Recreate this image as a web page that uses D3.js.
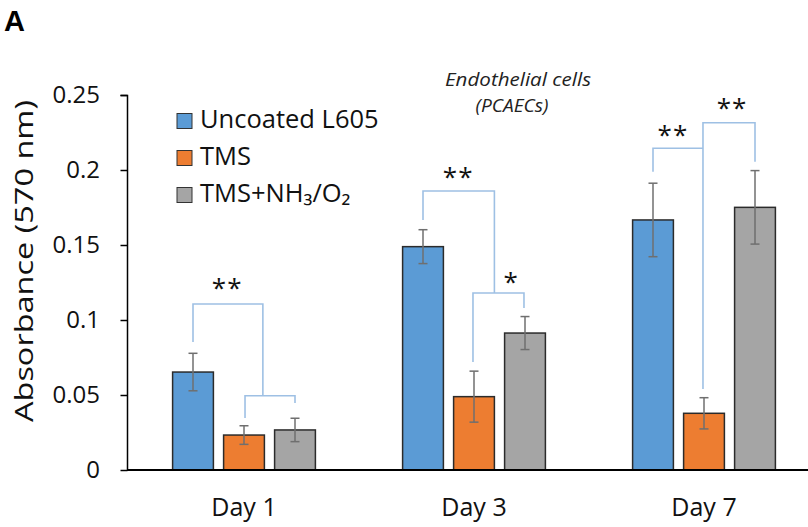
<!DOCTYPE html>
<html><head><meta charset="utf-8">
<script src="https://cdn.jsdelivr.net/npm/d3@7"></script>
<style>body{margin:0;background:#fff}svg{display:block}</style>
</head><body>
<script>
// ---- data ----
const days = ["Day 1", "Day 3", "Day 7"];
const seriesNames = ["Uncoated L605", "TMS", "TMS+NH\u2083/O\u2082"];
const uncoated = [0.0653, 0.1489, 0.1667];
const uncoatedErr = [0.0125, 0.0113, 0.0245];
const tms = [0.0233, 0.0489, 0.0378];
const tmsErr = [0.0062, 0.0170, 0.0104];
const tmsNh3 = [0.0267, 0.0913, 0.1751];
const tmsNh3Err = [0.0078, 0.0110, 0.0245];
const yTicks = [0, 0.05, 0.1, 0.15, 0.2, 0.25];
const yTickLabels = ["0", "0.05", "0.1", "0.15", "0.2", "0.25"];
const colors = ["#5b9bd5", "#ed7d31", "#a5a5a5"];
// significance brackets: polylines in (day, series position, value) units
const brackets = [
  {day: 0, pts: [[0, 0.0853], [0, 0.1107], [1.37, 0.1107], [1.37, 0.0495]]},
  {day: 0, pts: [[1.02, 0.0347], [1.02, 0.0495], [2.0, 0.0495], [2.0, 0.0447]]},
  {day: 1, pts: [[0, 0.1667], [0, 0.186], [1.4, 0.186], [1.4, 0.118]]},
  {day: 1, pts: [[0.98, 0.072], [0.98, 0.118], [1.98, 0.118], [1.98, 0.108]]},
  {day: 2, pts: [[0, 0.1989], [0, 0.2145], [0.98, 0.2145]]},
  {day: 2, pts: [[0.98, 0.054], [0.98, 0.2315], [2.0, 0.2315], [2.0, 0.2055]]}
];
const stars = [
  {day: 0, pos: 0.67, v: 0.125, t: "**"},
  {day: 1, pos: 0.69, v: 0.1987, t: "**"},
  {day: 1, pos: 1.73, v: 0.1287, t: "*"},
  {day: 2, pos: 0.39, v: 0.2267, t: "**"},
  {day: 2, pos: 1.55, v: 0.2447, t: "**"}
];

const values = [uncoated, tms, tmsNh3];
const errs = [uncoatedErr, tmsErr, tmsNh3Err];

const W = 808, H = 527;
const svg = d3.select("body").append("svg").attr("width", W).attr("height", H);
const font = "'Open Sans', sans-serif";

const y = d3.scaleLinear().domain([0, 0.25]).range([470, 95]);
const x0 = d3.scaleBand().domain(days).range([129, 819]).padding(0);
const x1 = d3.scaleBand().domain(d3.range(3)).range([38.5, 191.5]).paddingInner(0.2).paddingOuter(0.1);
const step = x1.step();
const posX = (day, p) => x0(days[day]) + x1(0) + x1.bandwidth() / 2 + p * step;

// bars
const g = svg.append("g");
days.forEach((d, di) => {
  values.forEach((arr, si) => {
    g.append("rect")
      .attr("x", x0(d) + x1(si))
      .attr("y", y(arr[di]))
      .attr("width", x1.bandwidth())
      .attr("height", y(0) - y(arr[di]))
      .attr("fill", colors[si])
      .attr("stroke", "#2b2b2b")
      .attr("stroke-width", 1.5);
  });
});
// error bars
days.forEach((d, di) => {
  values.forEach((arr, si) => {
    const cx = x0(d) + x1(si) + x1.bandwidth() / 2;
    const top = y(arr[di] + errs[si][di]), bot = y(arr[di] - errs[si][di]);
    const e = g.append("g").attr("stroke", "#6f6f6f").attr("stroke-width", 1.5);
    e.append("line").attr("x1", cx).attr("x2", cx).attr("y1", top).attr("y2", bot);
    e.append("line").attr("x1", cx - 4.5).attr("x2", cx + 4.5).attr("y1", top).attr("y2", top);
    e.append("line").attr("x1", cx - 4.5).attr("x2", cx + 4.5).attr("y1", bot).attr("y2", bot);
  });
});

// axes
const yAxis = d3.axisLeft(y).tickValues(yTicks).tickFormat((d, i) => yTickLabels[i]).tickSize(7).tickPadding(20.5);
const ya = svg.append("g").attr("transform", "translate(127.5,0)").call(yAxis);
ya.select(".domain").attr("stroke", "#000").attr("stroke-width", 1.5).attr("d", "M-7,95.5H0V470");
ya.selectAll(".tick line").attr("stroke", "#000").attr("stroke-width", 1.5);
ya.selectAll(".tick text").attr("font-family", font).attr("font-size", 24).attr("fill", "#111");

svg.append("line").attr("x1", 127).attr("x2", 808).attr("y1", 470).attr("y2", 470)
  .attr("stroke", "#000").attr("stroke-width", 2);

const xAxis = d3.axisBottom(x0).tickSize(0).tickPadding(0);
const xa = svg.append("g").attr("transform", "translate(0,470)").call(xAxis);
xa.select(".domain").remove();
xa.selectAll(".tick text").attr("font-family", font).attr("font-size", 25).attr("fill", "#111")
  .attr("dy", null).attr("y", 46);

// y label
svg.append("text").attr("transform", "translate(33,261) rotate(-90)")
  .attr("text-anchor", "middle").attr("font-family", font).attr("font-size", 25).attr("fill", "#111")
  .attr("textLength", 322).attr("lengthAdjust", "spacingAndGlyphs")
  .text("Absorbance (570 nm)");

// brackets
const line = d3.line();
brackets.forEach(b => {
  svg.append("path")
    .attr("d", line(b.pts.map(p => [posX(b.day, p[0]), y(p[1])])))
    .attr("fill", "none").attr("stroke", "#9ec0e4").attr("stroke-width", 1.6);
});
stars.forEach(s => {
  svg.append("text").attr("x", posX(s.day, s.pos)).attr("y", y(s.v) + 14)
    .attr("text-anchor", "middle").attr("font-family", font).attr("font-size", 26)
    .attr("letter-spacing", 1).attr("fill", "#111").text(s.t);
});

// legend
const leg = svg.append("g");
seriesNames.forEach((n, i) => {
  const cy = 121 + i * 37;
  leg.append("rect").attr("x", 177).attr("y", cy - 7.5).attr("width", 15).attr("height", 15)
    .attr("fill", colors[i]).attr("stroke", "#333").attr("stroke-width", 1);
  leg.append("text").attr("x", 200).attr("y", cy + 7).attr("font-family", font).attr("font-size", 25.5)
    .attr("fill", "#111").text(n);
});

// title
svg.append("text").attr("x", 518).attr("y", 86).attr("text-anchor", "middle").attr("font-family", font)
  .attr("font-style", "italic").attr("font-size", 18.5).attr("fill", "#222")
  .attr("textLength", 146).attr("lengthAdjust", "spacingAndGlyphs").text("Endothelial cells");
svg.append("text").attr("x", 512).attr("y", 112).attr("text-anchor", "middle").attr("font-family", font)
  .attr("font-style", "italic").attr("font-size", 18.5).attr("fill", "#222")
  .attr("textLength", 73).attr("lengthAdjust", "spacingAndGlyphs").text("(PCAECs)");

// panel letter
svg.append("text").attr("x", 4).attr("y", 31).attr("font-family", "'Liberation Sans', Arial, sans-serif")
  .attr("font-weight", "bold").attr("font-size", 29).attr("fill", "#000").text("A");
</script>
</body></html>
